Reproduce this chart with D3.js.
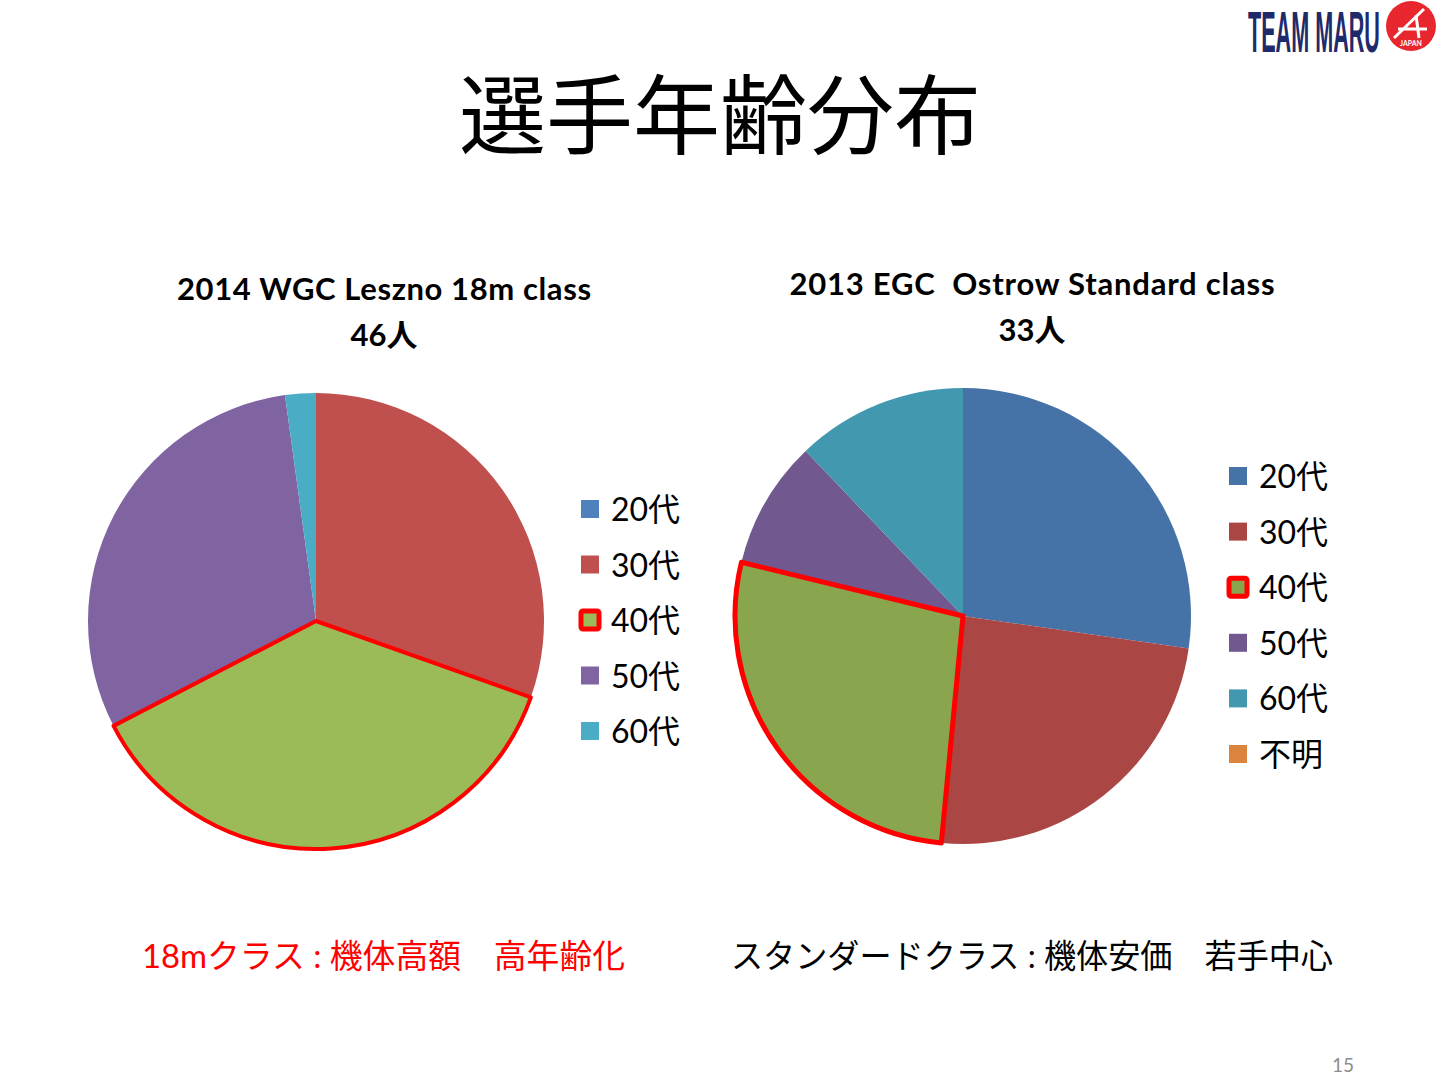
<!DOCTYPE html>
<html>
<head>
<meta charset="utf-8">
<script src="https://cdn.jsdelivr.net/npm/d3@7"></script>
<style>
  html, body { margin: 0; padding: 0; background: #fff; }
  svg { display: block; }
  text { font-family: Lato, "Noto Sans CJK JP", sans-serif; white-space: pre; }
</style>
</head>
<body>
<svg id="chart" width="1440" height="1080"></svg>
<script>
// Age groups and counts
const ageGroups = ["20代", "30代", "40代", "50代", "60代"];
const leszno18m = [0, 14, 17, 14, 1];           // 46人
const ageGroupsStd = ["20代", "30代", "40代", "50代", "60代", "不明"];
const ostrowStd = [9, 8, 9, 3, 4, 0];           // 33人

const colorsLeft = ["#4F81BD", "#C0504D", "#9BBB59", "#8064A2", "#4BACC6"];
const colorsRight = ["#4572A7", "#AA4643", "#89A54E", "#71588F", "#4198AF", "#DB843D"];
const highlight = "40代";

const svg = d3.select("#chart");

// Slide title
svg.append("text")
    .attr("x", 720).attr("y", 148)
    .attr("text-anchor", "middle")
    .style("font-family", "'Noto Sans CJK JP', sans-serif")
    .style("font-size", "87px")
    .attr("fill", "#000")
    .text("選手年齢分布");

// Logo (top right): condensed wordmark, stretched to fit its box
const logo = svg.append("g").attr("transform", "translate(1248,0)");
const word = logo.append("text")
    .attr("x", 0).attr("y", 0)
    .style("font-family", "'Liberation Sans Narrow', 'Liberation Sans', sans-serif")
    .style("font-weight", "bold")
    .style("font-size", "30px")
    .attr("fill", "#1f2a6b")
    .text("TEAM MARU");
const ww = word.node().getComputedTextLength();
word.attr("transform", `translate(0,52) scale(${132 / ww},1.9)`);
logo.append("circle").attr("cx", 163).attr("cy", 26).attr("r", 25).attr("fill", "#e8262d");
logo.append("path")
    .attr("d", "M146,38 L176,9 M150,29 L179,29 M168,15 L171,38")
    .attr("stroke", "#fff").attr("stroke-width", 3).attr("fill", "none");
logo.append("text")
    .attr("x", 163).attr("y", 46).attr("text-anchor", "middle")
    .style("font-size", "7px").style("font-weight", "bold")
    .attr("fill", "#fff").text("JAPAN");

function drawPie(cfg) {
  const g = svg.append("g").attr("transform", `translate(${cfg.cx},${cfg.cy})`);
  const pie = d3.pie().sort(null).value(d => d.value);
  const arc = d3.arc().innerRadius(0).outerRadius(cfg.r);
  const data = cfg.labels.map((l, i) => ({ label: l, value: cfg.values[i], color: cfg.colors[i] }));
  const arcs = pie(data);

  g.selectAll("path.slice")
    .data(arcs.filter(d => d.data.value > 0))
    .join("path")
    .attr("class", "slice")
    .attr("d", arc)
    .attr("fill", d => d.data.color);

  // red outline around the highlighted slice, drawn on top
  g.selectAll("path.hl")
    .data(arcs.filter(d => d.data.label === highlight))
    .join("path")
    .attr("class", "hl")
    .attr("d", arc)
    .attr("fill", "none")
    .attr("stroke", "#ff0000")
    .attr("stroke-width", cfg.hlWidth)
    .attr("stroke-linejoin", "round");

  // titles
  cfg.titles.forEach((t, i) => {
    svg.append("text")
      .attr("x", cfg.titleX).attr("y", cfg.titleY + i * 46)
      .attr("text-anchor", "middle")
      .style("font-weight", "bold")
      .style("font-size", "31px")
      .attr("fill", "#000")
      .text(t)
      .each(function () {
        if (i === 0) d3.select(this).attr("textLength", cfg.titleW).attr("lengthAdjust", "spacing");
      });
  });

  // legend
  const y = d3.scalePoint().domain(cfg.labels).range([cfg.legendY0, cfg.legendY1]);
  const lg = svg.append("g");
  const item = lg.selectAll("g").data(data).join("g")
    .attr("transform", d => `translate(${cfg.legendX},${y(d.label)})`);
  item.append("rect")
    .attr("x", 0).attr("y", -9).attr("width", 18).attr("height", 18)
    .attr("fill", d => d.color)
    .attr("stroke", d => d.label === highlight ? "#ff0000" : "none")
    .attr("stroke-width", d => d.label === highlight ? 5 : 0)
    .attr("rx", d => d.label === highlight ? 2 : 0);
  item.append("text")
    .attr("x", 30).attr("y", 12)
    .style("font-size", "32px")
    .attr("fill", "#000")
    .text(d => d.label);
}

drawPie({
  cx: 316, cy: 621, r: 228,
  labels: ageGroups, values: leszno18m, colors: colorsLeft,
  hlWidth: 4,
  titles: ["2014 WGC Leszno 18m class", "46人"], titleX: 384, titleY: 300, titleW: 414,
  legendX: 581, legendY0: 509, legendY1: 731
});

drawPie({
  cx: 963, cy: 616, r: 228,
  labels: ageGroupsStd, values: ostrowStd, colors: colorsRight,
  hlWidth: 5,
  titles: ["2013 EGC  Ostrow Standard class", "33人"], titleX: 1032, titleY: 295, titleW: 485,
  legendX: 1229, legendY0: 476, legendY1: 754
});

// captions under the pies
svg.append("text")
    .attr("x", 142).attr("y", 968)
    .attr("textLength", 483).attr("lengthAdjust", "spacingAndGlyphs")
    .style("font-size", "33px")
    .attr("fill", "#ff0000")
    .text("18mクラス : 機体高額　高年齢化");
svg.append("text")
    .attr("x", 731).attr("y", 968)
    .attr("textLength", 602).attr("lengthAdjust", "spacingAndGlyphs")
    .style("font-size", "33px")
    .attr("fill", "#000")
    .text("スタンダードクラス : 機体安価　若手中心");

// page number
svg.append("text")
    .attr("x", 1354).attr("y", 1072)
    .attr("text-anchor", "end")
    .style("font-size", "19px")
    .attr("fill", "#8c8c8c")
    .text("15");
</script>
</body>
</html>
